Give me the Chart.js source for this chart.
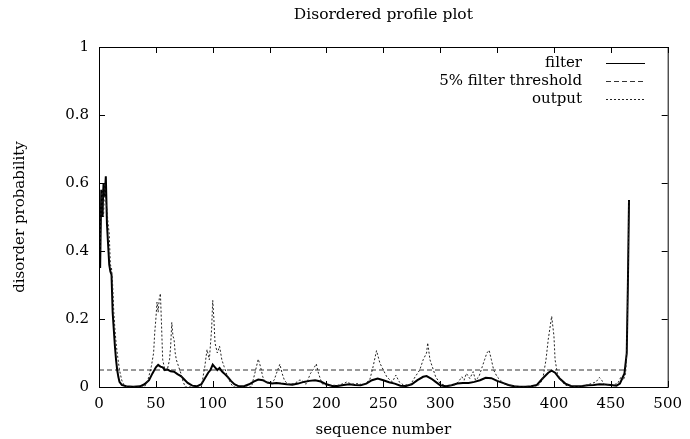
<!DOCTYPE html>
<html>
<head>
<meta charset="utf-8">
<script src="https://cdn.jsdelivr.net/npm/chart.js@4.4.0/dist/chart.umd.min.js"></script>
<style>
    html, body { margin: 0; padding: 0; background: #fff; }
</style>
</head>
<body>
<canvas id="profile" width="690" height="439"></canvas>
<script>
const xTicks = [0, 50, 100, 150, 200, 250, 300, 350, 400, 450, 500];
const yTicks = [0, 0.2, 0.4, 0.6, 0.8, 1];

// filter curve (sequence position, probability)
const filterPos = [1, 2, 3, 4, 5, 6, 7, 8, 9, 10, 11, 12, 13, 14, 15, 16, 17, 18, 20, 24, 30, 36, 40, 44, 47, 50, 52, 54, 56, 58, 60, 63, 66, 69, 72, 75, 78, 82, 86, 90, 93, 96, 98, 100, 102, 104, 106, 108, 110, 113, 116, 119, 123, 128, 132, 136, 140, 144, 148, 152, 156, 160, 165, 170, 175, 180, 185, 190, 195, 200, 205, 210, 215, 220, 225, 230, 235, 240, 245, 250, 255, 260, 265, 270, 275, 280, 285, 288, 292, 296, 300, 305, 310, 315, 320, 325, 330, 335, 340, 345, 350, 355, 360, 365, 370, 375, 380, 385, 390, 395, 398, 401, 405, 410, 415, 420, 425, 430, 435, 440, 445, 450, 455, 458, 460, 462, 464, 465, 466];
const filterProb = [0.35, 0.58, 0.50, 0.60, 0.56, 0.62, 0.48, 0.42, 0.36, 0.34, 0.33, 0.22, 0.17, 0.12, 0.08, 0.05, 0.03, 0.015, 0.006, 0.002, 0.001, 0.002, 0.008, 0.02, 0.04, 0.058, 0.065, 0.06, 0.058, 0.05, 0.052, 0.046, 0.045, 0.038, 0.032, 0.022, 0.012, 0.004, 0.002, 0.008, 0.025, 0.042, 0.05, 0.066, 0.058, 0.05, 0.056, 0.046, 0.04, 0.03, 0.018, 0.008, 0.002, 0.003, 0.008, 0.016, 0.022, 0.02, 0.013, 0.01, 0.012, 0.01, 0.008, 0.007, 0.01, 0.015, 0.018, 0.02, 0.016, 0.008, 0.003, 0.003, 0.006, 0.008, 0.006, 0.005, 0.01, 0.02, 0.025, 0.02, 0.014, 0.01, 0.004, 0.003, 0.008, 0.02, 0.03, 0.032, 0.025, 0.015, 0.005, 0.002, 0.005, 0.01, 0.012, 0.012, 0.015, 0.02, 0.027, 0.026, 0.018, 0.012, 0.006, 0.002, 0.001, 0.001, 0.002, 0.006, 0.025, 0.042, 0.048, 0.042, 0.025, 0.01, 0.003, 0.002, 0.003, 0.005, 0.006, 0.008, 0.007, 0.006, 0.004, 0.01, 0.025, 0.04, 0.1, 0.3, 0.55];

// raw predictor output
const outputPos = [1, 2, 3, 4, 5, 6, 7, 8, 9, 10, 11, 12, 13, 14, 15, 16, 18, 20, 22, 25, 40, 43, 46, 48, 49, 50, 51, 52, 53, 54, 55, 56, 58, 60, 62, 63, 64, 65, 66, 67, 68, 70, 72, 74, 76, 90, 93, 95, 97, 99, 100, 101, 102, 104, 106, 108, 110, 113, 116, 118, 134, 137, 140, 142, 144, 146, 150, 154, 156, 159, 161, 163, 166, 172, 176, 178, 182, 186, 188, 191, 193, 196, 200, 210, 215, 218, 222, 228, 232, 238, 241, 244, 247, 250, 253, 256, 258, 261, 264, 268, 274, 278, 282, 285, 288, 289, 291, 293, 296, 300, 306, 312, 316, 319, 321, 323, 326, 329, 331, 334, 337, 339, 341, 343, 345, 347, 350, 353, 356, 360, 370, 385, 390, 393, 395, 398, 400, 401, 403, 406, 410, 420, 428, 433, 437, 440, 442, 444, 450, 456, 459, 461, 463, 464, 465, 466];
const outputProb = [0.40, 0.56, 0.58, 0.50, 0.60, 0.55, 0.52, 0.48, 0.45, 0.36, 0.35, 0.30, 0.22, 0.17, 0.13, 0.10, 0.05, 0.02, 0.005, 0, 0, 0.02, 0.06, 0.10, 0.16, 0.20, 0.25, 0.22, 0.26, 0.275, 0.18, 0.08, 0.05, 0.05, 0.08, 0.12, 0.19, 0.15, 0.14, 0.10, 0.08, 0.06, 0.04, 0.015, 0, 0, 0.06, 0.11, 0.08, 0.17, 0.255, 0.2, 0.13, 0.1, 0.12, 0.08, 0.06, 0.03, 0.01, 0, 0, 0.04, 0.082, 0.06, 0.03, 0.015, 0.01, 0.02, 0.04, 0.067, 0.04, 0.02, 0.008, 0.01, 0.02, 0.02, 0.008, 0.04, 0.05, 0.068, 0.04, 0.01, 0.005, 0.005, 0.01, 0.015, 0.008, 0.01, 0.006, 0.02, 0.06, 0.107, 0.07, 0.05, 0.03, 0.02, 0.015, 0.035, 0.015, 0.005, 0.008, 0.03, 0.05, 0.08, 0.1, 0.13, 0.08, 0.06, 0.03, 0.01, 0.003, 0.005, 0.015, 0.03, 0.02, 0.04, 0.025, 0.045, 0.02, 0.03, 0.06, 0.08, 0.1, 0.108, 0.08, 0.05, 0.03, 0.02, 0.01, 0.005, 0, 0, 0.02, 0.08, 0.14, 0.208, 0.15, 0.08, 0.04, 0.02, 0.005, 0, 0.005, 0.01, 0.015, 0.028, 0.02, 0.008, 0.005, 0.01, 0.03, 0.02, 0.04, 0.1, 0.3, 0.55];

const thresholdPos = [0, 464];
const thresholdProb = [0.05, 0.05];

const serif = "'DejaVu Serif', 'Liberation Serif', serif";

function points(xs, ys) {
    return xs.map((x, i) => ({ x: x, y: ys[i] }));
}

// gnuplot style box, inward ticks on all sides and key in the top right corner
const gnuplotFrame = {
    id: 'gnuplotFrame',
    afterDraw(chart) {
        const ctx = chart.ctx;
        const a = chart.chartArea;
        const xs = chart.scales.x, ys = chart.scales.y;
        ctx.save();
        ctx.strokeStyle = '#000';
        ctx.lineWidth = 1;
        ctx.setLineDash([]);
        ctx.strokeRect(a.left + 0.5, a.top + 0.5, a.right - a.left, a.bottom - a.top);
        ctx.beginPath();
        xs.ticks.forEach(t => {
            const px = Math.round(xs.getPixelForValue(t.value)) + 0.5;
            ctx.moveTo(px, a.bottom); ctx.lineTo(px, a.bottom - 6);
            ctx.moveTo(px, a.top); ctx.lineTo(px, a.top + 6);
        });
        ys.ticks.forEach(t => {
            const py = Math.round(ys.getPixelForValue(t.value)) + 0.5;
            ctx.moveTo(a.left, py); ctx.lineTo(a.left + 6, py);
            ctx.moveTo(a.right, py); ctx.lineTo(a.right - 6, py);
        });
        ctx.stroke();

        // key
        ctx.font = '15px ' + serif;
        ctx.fillStyle = '#000';
        ctx.textAlign = 'right';
        ctx.textBaseline = 'middle';
        chart.data.datasets.forEach((ds, i) => {
            const y = 63 + i * 18;
            ctx.fillText(ds.label, 582, y);
            ctx.beginPath();
            ctx.strokeStyle = ds.borderColor;
            ctx.lineWidth = 1;
            ctx.setLineDash(ds.borderDash || []);
            ctx.moveTo(606, Math.round(y) + 0.5);
            ctx.lineTo(645, Math.round(y) + 0.5);
            ctx.stroke();
        });
        ctx.restore();
    }
};

new Chart(document.getElementById('profile'), {
    type: 'line',
    data: {
        datasets: [{
            label: 'filter',
            data: points(filterPos, filterProb),
            borderColor: '#000',
            borderWidth: 2,
            order: 2
        }, {
            label: '5% filter threshold',
            data: points(thresholdPos, thresholdProb),
            borderColor: '#333',
            borderWidth: 1,
            borderDash: [5, 3],
            order: 3
        }, {
            label: 'output',
            data: points(outputPos, outputProb),
            borderColor: '#222',
            borderWidth: 1,
            borderDash: [2, 2],
            order: 1
        }]
    },
    options: {
        responsive: false,
        animation: false,
        devicePixelRatio: 1,
        elements: { point: { radius: 0 }, line: { tension: 0 } },
        layout: { padding: { left: 0, right: 21, top: 0, bottom: 0 } },
        plugins: {
            legend: { display: false },
            tooltip: { enabled: false }
        },
        scales: {
            x: {
                type: 'linear',
                position: 'bottom',
                min: 0,
                max: 500,
                afterBuildTicks: s => { s.ticks = xTicks.map(v => ({ value: v })); },
                afterFit: s => { s.height = 52; },
                grid: { display: false, drawTicks: false },
                border: { display: false },
                ticks: { color: '#000', padding: 8, maxRotation: 0, font: { family: serif, size: 15 } },
                title: {
                    display: true,
                    text: 'sequence number',
                    color: '#000',
                    font: { family: serif, size: 15 },
                    padding: { top: 0, bottom: 0 }
                }
            },
            x2: {
                type: 'linear',
                position: 'top',
                min: 0,
                max: 500,
                afterFit: s => { s.height = 47; },
                grid: { display: false, drawTicks: false },
                border: { display: false },
                ticks: { display: false },
                title: {
                    display: true,
                    text: 'Disordered profile plot',
                    color: '#000',
                    font: { family: serif, size: 15.5 },
                    padding: { top: 6, bottom: 0 }
                }
            },
            y: {
                min: 0,
                max: 1,
                afterBuildTicks: s => { s.ticks = yTicks.map(v => ({ value: v })); },
                afterFit: s => { s.width = 99; },
                grid: { display: false, drawTicks: false },
                border: { display: false },
                ticks: {
                    color: '#000',
                    padding: 10,
                    font: { family: serif, size: 15 },
                    callback: v => String(v)
                },
                title: {
                    display: true,
                    text: 'disorder probability',
                    color: '#000',
                    font: { family: serif, size: 15 },
                    padding: { top: 11, bottom: 0 }
                }
            }
        }
    },
    plugins: [gnuplotFrame]
});
</script>
</body>
</html>
